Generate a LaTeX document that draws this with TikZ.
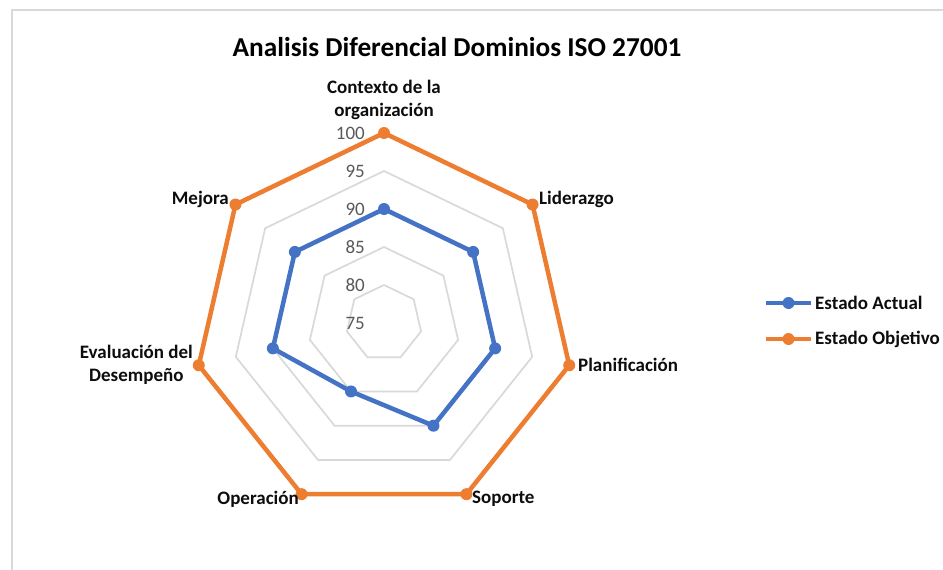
\documentclass[tikz,border=0pt]{standalone}
\usepackage{fontspec}
\setmainfont{Carlito}
\usetikzlibrary{calc}
\definecolor{actual}{HTML}{4472C4}
\definecolor{objetivo}{HTML}{ED7D31}
\definecolor{gridgray}{HTML}{D9D9D9}
\definecolor{ticktext}{HTML}{595959}
\definecolor{labtext}{HTML}{0D0D0D}
\tikzset{
  gridring/.style={draw=gridgray, line width=1.7pt, line join=round},
  seriesline/.style={line width=4.5pt, line join=round},
  ticklab/.style={anchor=east, inner sep=0pt, text=ticktext, font=\fontsize{19}{22}\selectfont},
  axislab/.style={inner sep=0pt, text=labtext, font=\bfseries\fontsize{19}{23}\selectfont},
  legtext/.style={anchor=west, inner sep=0pt, text=labtext, font=\bfseries\fontsize{19}{22}\selectfont},
  titlelab/.style={inner sep=0pt, text=black, font=\bfseries\fontsize{27.3}{32}\selectfont}
}
\begin{document}
\begin{tikzpicture}[x=1pt,y=-1pt]
\useasboundingbox (0,0) rectangle (943,570);
\fill[white] (0,0) rectangle (943,570);
% frame
\coordinate (fbl) at (12,570);
\coordinate (ftl) at (12,10);
\coordinate (ftr) at (943,10);
\draw[gridgray, line width=2pt] (fbl) -- (ftl) -- (ftr);
% title
\node[titlelab] (title) at (457,47) {Analisis Diferencial Dominios ISO 27001};
\begin{scope}[shift={(384,323)}]
  % grid rings
  \foreach \v in {80,85,90,95,100}{
    \draw[gridring] (90:{(\v-75)*7.6pt})
      \foreach \k in {1,...,6}{ -- ({90-\k*360/7}:{(\v-75)*7.6pt}) } -- cycle;
  }
  % tick labels
  \foreach \v in {75,80,85,90,95,100}{
    \node[ticklab] (tick\v) at (-19,{-(\v-75)*7.6}) {\v};
  }
  % data
  \foreach \val [count=\i from 0] in {90,90,90,90,85,90,90}{
    \coordinate (a\i) at ({90-\i*360/7}:{(\val-75)*7.6pt});
  }
  \foreach \val [count=\i from 0] in {100,100,100,100,100,100,100}{
    \coordinate (o\i) at ({90-\i*360/7}:{(\val-75)*7.6pt});
  }
  \draw[seriesline, objetivo] (o0) -- (o1) -- (o2) -- (o3) -- (o4) -- (o5) -- (o6) -- cycle;
  \draw[seriesline, actual] (a0) -- (a1) -- (a2) -- (a3) -- (a4) -- (a5) -- (a6) -- cycle;
  \foreach \i in {0,...,6}{
    \fill[objetivo] (o\i) circle (6pt);
    \fill[actual] (a\i) circle (6pt);
  }
  % axis labels
  \node[axislab, align=center] (lab0) at (0,-223) {Contexto de la\\organización};
  \node[axislab, anchor=west] (lab1) at (155,-124) {Liderazgo};
  \node[axislab, anchor=west] (lab2) at (194,42) {Planificación};
  \node[axislab, anchor=west] (lab3) at (88,176) {Soporte};
  \node[axislab, anchor=east] (lab4) at (-85,176) {Operación};
  \node[axislab, anchor=east, align=center] (lab5) at (-191,42) {Evaluación del\\Desempeño};
  \node[axislab, anchor=east] (lab6) at (-155,-124) {Mejora};
\end{scope}
% legend
\coordinate (la1) at (766,303);
\coordinate (lb1) at (811,303);
\coordinate (la2) at (766,339);
\coordinate (lb2) at (811,339);
\draw[seriesline, actual] (la1) -- (lb1);
\fill[actual] ($(la1)!0.5!(lb1)$) circle (6pt);
\node[legtext] (leg1) at (815,303) {Estado Actual};
\draw[seriesline, objetivo] (la2) -- (lb2);
\fill[objetivo] ($(la2)!0.5!(lb2)$) circle (6pt);
\node[legtext] (leg2) at (815,339) {Estado Objetivo};
\end{tikzpicture}
\end{document}
